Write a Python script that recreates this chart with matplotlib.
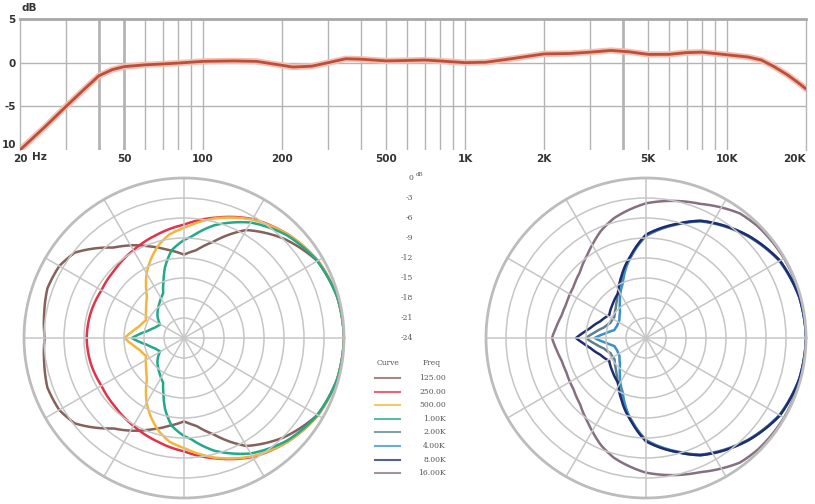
import matplotlib.pyplot as plt
import numpy as np
from matplotlib.lines import Line2D
from matplotlib.path import Path
from matplotlib.patches import PathPatch

# frequency response (Hz, dB)
freq = [20, 25, 30, 35, 40, 45, 50, 60, 70, 80, 100, 130, 160, 190, 220, 260,
        300, 350, 400, 500, 600, 700, 800, 1000, 1200, 1500, 2000, 2500, 3000,
        3600, 4200, 5000, 6000, 7000, 8000, 10000, 12000, 13500, 15000, 17000,
        18500, 20000]
resp = [-10, -7.3, -5.0, -3.1, -1.5, -0.8, -0.45, -0.25, -0.15, -0.05, 0.15,
        0.2, 0.15, -0.2, -0.5, -0.4, 0.0, 0.45, 0.4, 0.2, 0.25, 0.3, 0.2, 0.0,
        0.05, 0.45, 1.0, 1.05, 1.2, 1.4, 1.25, 0.95, 0.95, 1.15, 1.2, 0.9,
        0.65, 0.3, -0.4, -1.4, -2.2, -3.0]
xt = [20, 50, 100, 200, 500, 1000, 2000, 5000, 10000, 20000]
xt_lab = ["20", "50", "100", "200", "500", "1K", "2K", "5K", "10K", "20K"]
yt = [5, 0, -5, -10]
yt_lab = ["5", "0", "-5", "10"]

# polar patterns, half plane (deg, dB), mirrored for the other side
a125 = [0, 15, 30, 45, 60, 73, 82, 90, 100, 110, 119, 128, 135, 142, 150, 160, 170, 180]
d125 = [0, -0.2, -0.9, -2.9, -5.3, -8.9, -10.7, -11.5, -10.6, -9.4, -8.1, -6.8, -5.0, -3.2, -2.4, -2.2, -2.7, -3.1]
a250 = [0, 15, 30, 45, 60, 75, 90, 105, 120, 135, 150, 165, 180]
d250 = [0, -0.2, -0.8, -2.0, -3.4, -5.3, -7.0, -8.0, -8.8, -9.4, -9.7, -9.5, -9.4]
a500 = [0, 15, 30, 45, 60, 75, 90, 98, 105, 112, 120, 126, 132, 140, 147, 155, 165, 172, 180]
d500 = [0, -0.2, -0.8, -2.0, -3.5, -5.4, -7.5, -8.3, -9.5, -11.0, -12.8, -14.3, -15.7, -16.6, -17.2, -17.7, -17.1, -16.3, -15.1]
a1k = [0, 15, 30, 45, 60, 75, 86, 90, 98, 105, 110, 115, 124, 130, 140, 151, 160, 165, 170, 175, 180]
d1k = [0, -0.2, -0.9, -2.2, -4.0, -6.5, -8.8, -9.3, -10.7, -13.0, -15.0, -16.6, -17.5, -18.0, -18.8, -19.9, -19.4, -18.9, -18.3, -17.3, -16.2]
a2k = [0, 15, 30, 45, 65, 75, 90, 100, 113, 127, 135, 146, 157, 166, 173, 180]
d2k = [0, -0.2, -0.9, -2.4, -4.7, -6.4, -8.7, -11.5, -14.6, -16.8, -17.6, -18.3, -18.2, -17.5, -16.4, -15.0]
a4k = [0, 15, 30, 45, 65, 75, 90, 100, 113, 127, 135, 146, 157, 166, 173, 180]
d4k = [0, -0.2, -0.8, -2.3, -4.6, -6.3, -8.6, -11.4, -15.1, -17.5, -18.5, -19.2, -19.3, -19.1, -18.0, -16.3]
a8k = [0, 15, 30, 45, 65, 75, 90, 100, 112, 122, 135, 148, 160, 170, 175, 180]
d8k = [0, -0.2, -0.8, -2.3, -4.6, -6.3, -8.5, -11.3, -14.1, -16.1, -16.9, -17.5, -16.7, -15.5, -14.6, -13.5]
a16k = [0, 30, 45, 53, 68, 90, 105, 113, 119, 125, 135, 145, 157, 165, 172, 180]
d16k = [0, -0.1, -0.3, -0.6, -2.3, -3.8, -5.4, -6.6, -7.7, -8.7, -10.0, -10.7, -11.0, -10.9, -10.5, -9.9]

curve_lab = ["125.00", "250.00", "500.00", "1.00K", "2.00K", "4.00K", "8.00K", "16.00K"]
curve_col = ["#86605a", "#e0344a", "#f2b63c", "#22a88a", "#5f7f8a", "#3a90c8", "#1e2d6e", "#857080"]
ring_lab = ["0", "-3", "-6", "-9", "-12", "-15", "-18", "-21", "-24"]

W, H = 815, 504
fig = plt.figure(figsize=(W / 100, H / 100), dpi=100)

def fx(px):
    return px / W

def fy(py):
    return 1 - py / H

# ---- frequency response ----
ax = fig.add_axes([fx(20), fy(150), fx(786), 131 / H])
ax.set_xscale("log")
ax.set_xlim(20, 20000)
ax.set_ylim(-10, 5)
grid_f = [f * m for f in (10, 100, 1000, 10000) for m in range(1, 10)]
for f in grid_f:
    if 20 < f < 20000:
        lw = 2.0 if f in (40, 50, 4000) else 1.0
        ax.axvline(f, color="#b4b4b4", lw=lw, zorder=1)
for v in (0, -5):
    ax.axhline(v, color="#b4b4b4", lw=1.0, zorder=1)
ax.plot(freq, resp, color="#f5c0b2", lw=4.5, solid_capstyle="round", zorder=2)
ax.plot(freq, resp, color="#bc4e3a", lw=2, zorder=3)
ax.set_xticks(xt)
ax.set_xticklabels(xt_lab)
ax.xaxis.set_minor_locator(plt.NullLocator())
ax.set_yticks(yt)
ax.set_yticklabels(yt_lab)
ax.tick_params(length=0, labelsize=7.5, labelcolor="#333333", pad=3)
for lab in ax.get_xticklabels() + ax.get_yticklabels():
    lab.set_fontweight("bold")
ax.get_xticklabels()[-1].set_horizontalalignment("right")
ax.get_yticklabels()[-1].set_verticalalignment("bottom")
for s in ("left", "right"):
    ax.spines[s].set_color("#b4b4b4")
    ax.spines[s].set_linewidth(1.0)
ax.spines["top"].set_color("#a8a8a8")
ax.spines["top"].set_linewidth(2.0)
ax.spines["bottom"].set_visible(False)
fig.text(fx(22), fy(8), "dB", fontsize=7.5, fontweight="bold", color="#333333", va="center")
fig.text(fx(32), fy(157), "Hz", fontsize=7.5, fontweight="bold", color="#333333", va="center")

# ---- polar plots ----
def polar_ax(cx):
    pa = fig.add_axes([fx(cx - 160), fy(338 + 160), fx(320), 320 / H], projection="polar")
    pa.set_ylim(-24, 0)
    pa.set_rgrids(np.arange(-21, 0, 3), labels=[])
    pa.set_thetagrids(range(0, 360, 30), labels=[])
    pa.grid(True, color="#c6c6c6", lw=1.1)
    pa.spines["polar"].set_color("#bcbcbc")
    pa.spines["polar"].set_linewidth(2.0)
    pa.tick_params(length=0)
    return pa

def pattern(pa, ang, db, col):
    ang = np.array(ang, dtype=float)
    db = np.array(db, dtype=float)
    th = np.concatenate([ang, 360 - ang[::-1][1:]])
    r = np.concatenate([db, db[::-1][1:]])
    path = Path(np.column_stack([np.radians(th), r]), _interpolation_steps=24)
    pa.add_patch(PathPatch(path, fill=False, edgecolor=col, lw=1.8,
                           joinstyle="round", transform=pa.transData))

pl = polar_ax(184)
pattern(pl, a125, d125, curve_col[0])
pattern(pl, a250, d250, curve_col[1])
pattern(pl, a500, d500, curve_col[2])
pattern(pl, a1k, d1k, curve_col[3])

pr = polar_ax(646)
pattern(pr, a16k, d16k, curve_col[7])
pattern(pr, a2k, d2k, curve_col[4])
pattern(pr, a4k, d4k, curve_col[5])
pattern(pr, a8k, d8k, curve_col[6])

# ring scale between plots
for i, t in enumerate(ring_lab):
    fig.text(fx(413), fy(178 + 20 * i), t, fontsize=5.5, family="DejaVu Serif",
             color="#555555", ha="right", va="center")
fig.text(fx(416), fy(175), "dB", fontsize=4, family="DejaVu Serif", color="#555555", va="center")

# legend
fig.text(fx(388), fy(363), "Curve", fontsize=5.5, family="DejaVu Serif", color="#555555", ha="center", va="center")
fig.text(fx(432), fy(363), "Freq", fontsize=5.5, family="DejaVu Serif", color="#555555", ha="center", va="center")
for i, (t, c) in enumerate(zip(curve_lab, curve_col)):
    yy = fy(378 + 13.6 * i)
    fig.add_artist(Line2D([fx(375), fx(400)], [yy, yy], color=c, lw=1.5, alpha=0.75))
    fig.text(fx(446), yy, t, fontsize=5.5, family="DejaVu Serif", color="#555555", ha="right", va="center")

fig.savefig("out.png", dpi=100)
